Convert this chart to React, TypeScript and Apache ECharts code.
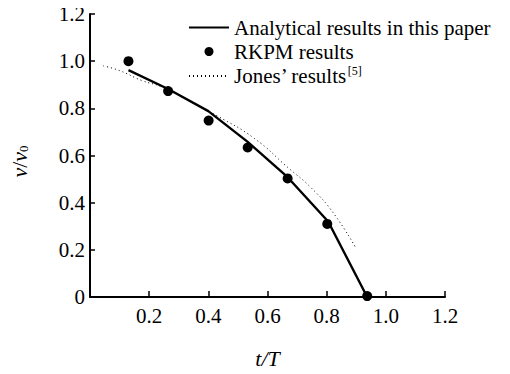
import React, { useEffect, useRef } from "react";
import * as echarts from "echarts";

const analytical: [number, number][] = [
  [0.13, 0.962], [0.264, 0.882], [0.4, 0.788], [0.533, 0.658], [0.668, 0.508], [0.805, 0.32], [0.937, 0.0],
];
const rkpm: [number, number][] = [
  [0.13, 1.0], [0.264, 0.873], [0.401, 0.748], [0.533, 0.634], [0.668, 0.503], [0.802, 0.31], [0.937, 0.004],
];
const jones: [number, number][] = [
  [0.045, 0.98], [0.1, 0.96], [0.175, 0.918], [0.245, 0.89], [0.33, 0.835], [0.43, 0.768],
  [0.556, 0.672], [0.668, 0.55], [0.75, 0.46], [0.825, 0.352], [0.9, 0.205],
];
const seriesNames = ["Analytical results in this paper", "RKPM results", "Jones\u2019 results"];

const FONT = "Liberation Serif";

export default function App() {
  const ref = useRef<HTMLDivElement>(null);
  useEffect(() => {
    const chart = echarts.init(ref.current!, undefined, { renderer: "svg" });
    chart.setOption({
      animation: false,
      backgroundColor: "#fff",
      textStyle: { fontFamily: FONT, color: "#000" },
      grid: { left: 88, right: 65, top: 14, bottom: 69 },
      legend: {
        orient: "vertical",
        left: 183,
        top: 12,
        itemWidth: 40,
        itemHeight: 9,
        itemGap: 3,
        data: [
          { name: seriesNames[0], itemStyle: { opacity: 0 } },
          { name: seriesNames[1] },
          { name: seriesNames[2], itemStyle: { opacity: 0 } },
        ],
        textStyle: {
          fontFamily: FONT,
          fontSize: 21,
          color: "#000",
          rich: {
            sup: { fontFamily: FONT, fontSize: 12, color: "#000", padding: [0, 0, 10, 0] },
          },
        },
        formatter: (n: string) => (n === seriesNames[2] ? n + "{sup|[5]}" : n),
      },
      xAxis: {
        type: "value",
        min: 0,
        max: 1.2,
        interval: 0.2,
        name: "t/T",
        nameLocation: "middle",
        nameGap: 50,
        nameTextStyle: { fontFamily: FONT, fontSize: 22, fontStyle: "italic", color: "#000" },
        axisLine: { lineStyle: { color: "#000", width: 2 } },
        axisTick: { inside: true, length: 6, lineStyle: { color: "#000", width: 1.5 } },
        splitLine: { show: false },
        axisLabel: {
          fontFamily: FONT,
          fontSize: 21,
          color: "#000",
          margin: 8,
          formatter: (v: number) => (v === 0 ? "" : v.toFixed(1)),
        },
      },
      yAxis: {
        type: "value",
        min: 0,
        max: 1.2,
        interval: 0.2,
        name: "{i|v}/{i|v}{sub|0}",
        nameLocation: "middle",
        nameRotate: 90,
        nameGap: 60,
        nameTextStyle: {
          fontFamily: FONT,
          fontSize: 22,
          color: "#000",
          padding: [0, 12, 0, 0],
          rich: {
            i: { fontFamily: FONT, fontSize: 22, fontStyle: "italic", color: "#000" },
            sub: { fontFamily: FONT, fontSize: 13, color: "#000", padding: [9, 0, 0, 0] },
          },
        },
        axisLine: { lineStyle: { color: "#000", width: 2 } },
        axisTick: { inside: true, length: 5, lineStyle: { color: "#000", width: 1.5 } },
        splitLine: { show: false },
        axisLabel: {
          fontFamily: FONT,
          fontSize: 21,
          color: "#000",
          margin: 5,
          formatter: (v: number) => (v === 0 ? "0" : v.toFixed(1)),
        },
      },
      series: [
        {
          name: seriesNames[0],
          type: "line",
          data: analytical,
          symbol: "none",
          lineStyle: { color: "#000", width: 2.4 },
          itemStyle: { color: "#000" },
          z: 3,
        },
        {
          name: seriesNames[1],
          type: "scatter",
          data: rkpm,
          symbol: "circle",
          symbolSize: 10,
          itemStyle: { color: "#000", opacity: 1 },
          z: 4,
        },
        {
          name: seriesNames[2],
          type: "line",
          data: jones,
          symbol: "none",
          smooth: true,
          lineStyle: { color: "#000", width: 1, type: [1, 3] },
          itemStyle: { color: "#000" },
          z: 2,
        },
      ],
    });
    return () => chart.dispose();
  }, []);
  return <div ref={ref} style={{ width: 510, height: 374, margin: -8 }} />;
}
